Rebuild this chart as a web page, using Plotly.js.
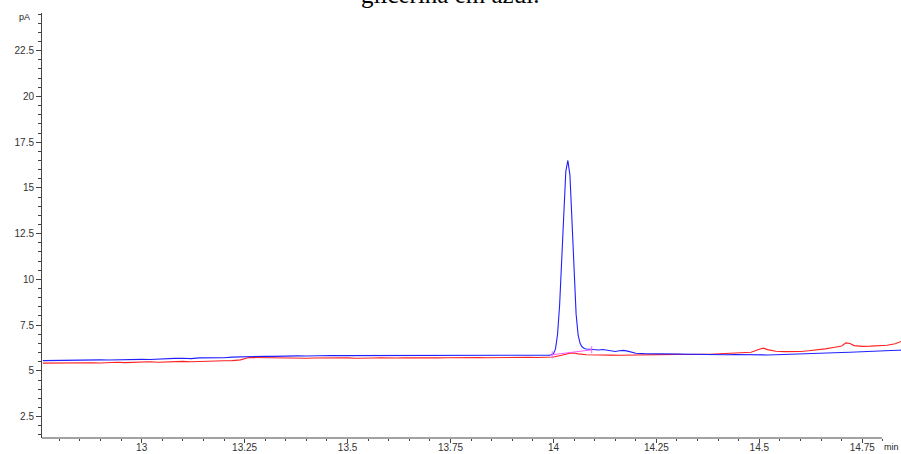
<!DOCTYPE html>
<html>
<head>
<meta charset="utf-8">
<script src="https://cdn.plot.ly/plotly-3.0.1.min.js"></script>
<style>
  html, body { margin: 0; padding: 0; background: #fff; }
  #chart { width: 901px; height: 454px; }
</style>
</head>
<body>
<div id="chart"></div>
<script>
// FID signal, glycerin run (blue)
const blueTime = [
  12.76, 12.78, 12.80, 12.82, 12.84, 12.86, 12.88, 12.90, 12.92, 12.94, 12.96, 12.98,
  13.00, 13.02, 13.04, 13.06, 13.08, 13.10, 13.12, 13.14, 13.16, 13.18, 13.20, 13.22, 13.24,
  13.26, 13.28, 13.30, 13.32, 13.34, 13.36, 13.38, 13.40, 13.42, 13.44, 13.46, 13.48,
  13.50, 13.52, 13.54, 13.56, 13.58, 13.60, 13.62, 13.64, 13.66, 13.68, 13.70, 13.72, 13.74,
  13.76, 13.78, 13.80, 13.82, 13.84, 13.86, 13.88, 13.90, 13.92, 13.94, 13.96, 13.98,
  13.99, 13.995, 14.000, 14.005, 14.010, 14.015, 14.020, 14.025, 14.030, 14.035, 14.040,
  14.045, 14.050, 14.055, 14.060, 14.065, 14.070, 14.075, 14.080,
  14.09, 14.10, 14.11, 14.12, 14.13, 14.14, 14.15, 14.16, 14.17, 14.18, 14.19, 14.20,
  14.22, 14.24, 14.26, 14.28, 14.30, 14.32, 14.34, 14.36, 14.38, 14.40, 14.42, 14.44,
  14.46, 14.48, 14.50, 14.52, 14.54, 14.56, 14.58, 14.60, 14.62, 14.64, 14.66, 14.68,
  14.70, 14.72, 14.74, 14.76, 14.78, 14.80, 14.82, 14.84, 14.85
];
const blueSignal = [
  5.56, 5.57, 5.56, 5.58, 5.57, 5.59, 5.58, 5.60, 5.59, 5.61, 5.62, 5.61,
  5.63, 5.62, 5.65, 5.64, 5.68, 5.69, 5.67, 5.71, 5.70, 5.73, 5.72, 5.75, 5.77,
  5.78, 5.79, 5.80, 5.79, 5.81, 5.80, 5.82, 5.81, 5.83, 5.82, 5.84, 5.83,
  5.83, 5.84, 5.83, 5.85, 5.84, 5.83, 5.85, 5.84, 5.86, 5.85, 5.84, 5.86, 5.85,
  5.86, 5.85, 5.84, 5.86, 5.85, 5.86, 5.85, 5.87, 5.86, 5.85, 5.87, 5.86,
  5.86, 5.88, 5.93, 6.20, 7.00, 8.60, 11.00, 13.80, 15.90, 16.50, 15.70,
  13.20, 10.20, 8.10, 6.95, 6.48, 6.30, 6.22, 6.19,
  6.17, 6.16, 6.14, 6.17, 6.13, 6.08, 6.06, 6.10, 6.12, 6.08, 6.00, 5.96,
  5.94, 5.93, 5.92, 5.91, 5.92, 5.90, 5.91, 5.89, 5.90, 5.89, 5.88, 5.89,
  5.88, 5.87, 5.88, 5.87, 5.88, 5.89, 5.90, 5.91, 5.93, 5.95, 5.97, 5.98,
  6.00, 6.02, 6.03, 6.05, 6.07, 6.09, 6.11, 6.13, 6.14
];

// FID signal, reference run (red)
const redTime = [
  12.76, 12.78, 12.80, 12.82, 12.84, 12.86, 12.88, 12.90, 12.92, 12.94, 12.96, 12.98,
  13.00, 13.02, 13.04, 13.06, 13.08, 13.10, 13.12, 13.14, 13.16, 13.18, 13.20, 13.22, 13.24,
  13.26, 13.28, 13.30, 13.32, 13.34, 13.36, 13.38, 13.40, 13.42, 13.44, 13.46, 13.48,
  13.50, 13.52, 13.54, 13.56, 13.58, 13.60, 13.62, 13.64, 13.66, 13.68, 13.70, 13.72, 13.74,
  13.76, 13.78, 13.80, 13.82, 13.84, 13.86, 13.88, 13.90, 13.92, 13.94, 13.96, 13.98,
  14.00, 14.02, 14.04, 14.05, 14.06, 14.08, 14.10, 14.12, 14.14, 14.16, 14.18, 14.20,
  14.22, 14.24, 14.26, 14.28, 14.30, 14.32, 14.34, 14.36, 14.38, 14.40, 14.42, 14.44,
  14.46, 14.48, 14.50, 14.51, 14.52, 14.54, 14.56, 14.58, 14.60, 14.62, 14.64, 14.66,
  14.68, 14.70, 14.71, 14.72, 14.73, 14.75, 14.77, 14.79, 14.81, 14.83, 14.85
];
const redSignal = [
  5.42, 5.43, 5.41, 5.44, 5.43, 5.45, 5.44, 5.43, 5.46, 5.47, 5.45, 5.47,
  5.48, 5.50, 5.47, 5.49, 5.51, 5.52, 5.50, 5.52, 5.55, 5.54, 5.55, 5.56, 5.60,
  5.73, 5.72, 5.71, 5.73, 5.72, 5.70, 5.71, 5.69, 5.70, 5.71, 5.69, 5.70,
  5.71, 5.69, 5.68, 5.70, 5.71, 5.69, 5.70, 5.72, 5.71, 5.70, 5.72, 5.71, 5.72,
  5.73, 5.72, 5.71, 5.73, 5.72, 5.73, 5.74, 5.73, 5.75, 5.74, 5.73, 5.75,
  5.76, 5.85, 5.97, 5.98, 5.93, 5.88, 5.86, 5.85, 5.86, 5.85, 5.86, 5.87,
  5.88, 5.87, 5.89, 5.88, 5.90, 5.89, 5.88, 5.90, 5.91, 5.93, 5.94, 5.96,
  5.98, 6.02, 6.18, 6.24, 6.16, 6.07, 6.05, 6.05, 6.06, 6.10, 6.14, 6.20,
  6.28, 6.36, 6.53, 6.50, 6.38, 6.34, 6.35, 6.36, 6.40, 6.48, 6.66
];

// Integration baseline drawn under the glycerin peak
const baselineTime = [13.997, 14.093];
const baselineSignal = [5.88, 6.15];

const xTickVals = [13, 13.25, 13.5, 13.75, 14, 14.25, 14.5, 14.75];
const xTickText = ['13', '13.25', '13.5', '13.75', '14', '14.25', '14.5', '14.75'];
const yTickVals = [2.5, 5, 7.5, 10, 12.5, 15, 17.5, 20, 22.5];
const yTickText = ['2.5', '5', '7.5', '10', '12.5', '15', '17.5', '20', '22.5'];

const tickFont = { family: 'Liberation Sans, Arial, sans-serif', size: 10, color: '#333' };

const traces = [
  {
    x: redTime, y: redSignal, type: 'scatter', mode: 'lines',
    line: { color: '#ff2020', width: 1.1 }, hoverinfo: 'skip'
  },
  {
    x: blueTime, y: blueSignal, type: 'scatter', mode: 'lines',
    line: { color: '#2020ff', width: 1.1 }, hoverinfo: 'skip'
  },
  {
    x: baselineTime, y: baselineSignal, type: 'scatter', mode: 'lines+markers',
    line: { color: '#ff55ff', width: 1 },
    marker: { symbol: 'line-ns-open', size: 5, line: { color: '#000', width: 1 } },
    hoverinfo: 'skip'
  }
];

const layout = {
  width: 901, height: 454,
  margin: { l: 42, r: 0, t: 13, b: 16, pad: 0 },
  paper_bgcolor: '#fff', plot_bgcolor: '#fff',
  showlegend: false,
  xaxis: {
    range: [12.758, 14.844],
    tickmode: 'array', tickvals: xTickVals, ticktext: xTickText,
    ticks: 'outside', ticklen: 4, tickcolor: '#444', tickwidth: 1,
    ticklabelstandoff: -4,
    minor: { dtick: 0.05, tick0: 13, ticks: 'outside', ticklen: 2, tickcolor: '#444', showgrid: false },
    showgrid: false, zeroline: false, showline: false,
    tickfont: tickFont
  },
  yaxis: {
    range: [1.33, 24.56],
    tickmode: 'array', tickvals: yTickVals, ticktext: yTickText,
    ticks: 'outside', ticklen: 5, tickcolor: '#444', tickwidth: 1,
    minor: { dtick: 0.5, tick0: 0, ticks: 'outside', ticklen: 3, tickcolor: '#444', showgrid: false },
    showgrid: false, zeroline: false, showline: true, linecolor: '#444', linewidth: 1,
    tickfont: tickFont
  },
  shapes: [
    { type: 'line', xref: 'paper', yref: 'paper', x0: 0, x1: 0.978, y0: 0, y1: 0,
      line: { color: '#444', width: 1 } }
  ],
  annotations: [
    { text: 'glicerina em azul.', xref: 'paper', yref: 'paper', x: 0.4755, y: 1.008,
      xanchor: 'center', yanchor: 'bottom', showarrow: false,
      font: { family: 'Liberation Serif, Times New Roman, serif', size: 25, color: '#000' } },
    { text: 'pA', xref: 'paper', yref: 'paper', x: -0.012, y: 0.99,
      xanchor: 'right', yanchor: 'middle', showarrow: false,
      font: { family: 'Liberation Sans, Arial, sans-serif', size: 9, color: '#222' } },
    { text: 'min', xref: 'paper', yref: 'paper', x: 1, y: -0.022,
      xanchor: 'right', yanchor: 'middle', showarrow: false,
      font: { family: 'Liberation Sans, Arial, sans-serif', size: 9, color: '#222' } }
  ]
};

Plotly.newPlot('chart', traces, layout, { staticPlot: true, displayModeBar: false });
</script>
</body>
</html>
